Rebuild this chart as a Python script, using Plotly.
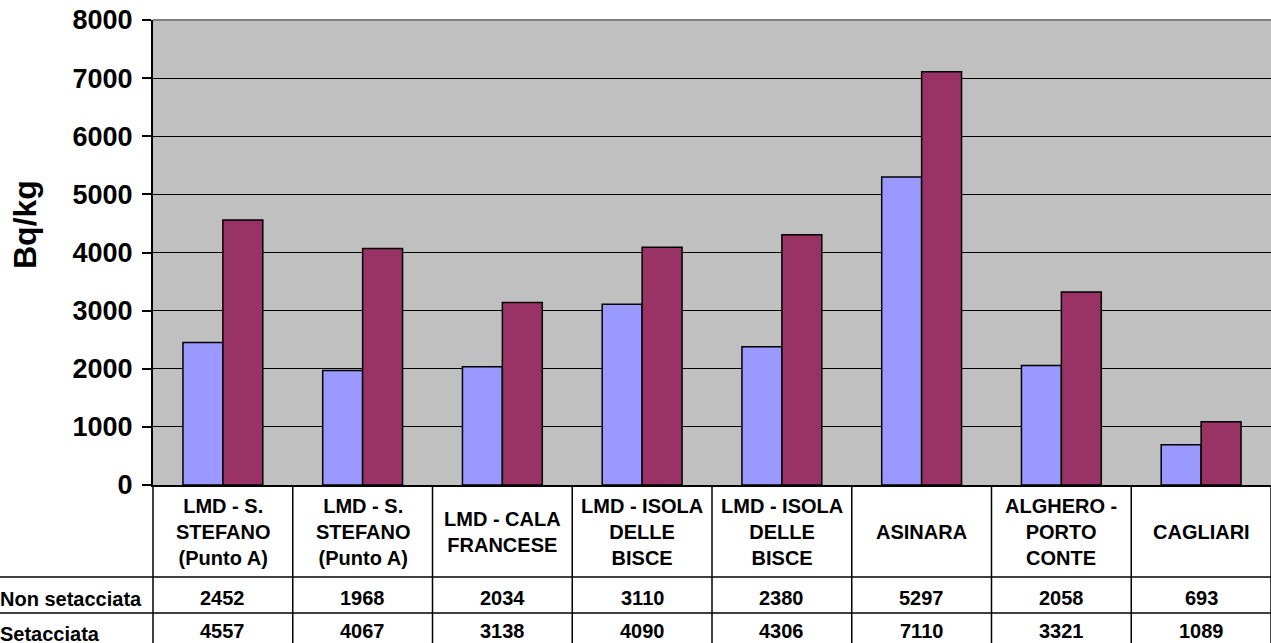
import plotly.graph_objects as go

categories = [
    "LMD - S.<br>STEFANO<br>(Punto A)",
    "LMD - S.<br>STEFANO<br>(Punto A)",
    "LMD - CALA<br>FRANCESE",
    "LMD - ISOLA<br>DELLE<br>BISCE",
    "LMD - ISOLA<br>DELLE<br>BISCE",
    "ASINARA",
    "ALGHERO -<br>PORTO<br>CONTE",
    "CAGLIARI",
]
series_names = ["Non setacciata", "Setacciata"]
non_setacciata = [2452, 1968, 2034, 3110, 2380, 5297, 2058, 693]
setacciata = [4557, 4067, 3138, 4090, 4306, 7110, 3321, 1089]
y_ticks = [0, 1000, 2000, 3000, 4000, 5000, 6000, 7000, 8000]
y_title = "Bq/kg"

W, H = 1271, 643
L, R, T, B = 153, 0, 20, 158
PW = W - L - R
PH = H - T - B
FONT = "Arial, Liberation Sans, sans-serif"
n = len(categories)
xs = list(range(n))


def px_x(px):
    return (px - L) / PW


def px_y(py):
    return (H - B - py) / PH


fig = go.Figure()
fig.add_trace(go.Bar(x=xs, y=non_setacciata, name=series_names[0],
                     marker=dict(color="#9999FF", line=dict(color="black", width=1.5))))
fig.add_trace(go.Bar(x=xs, y=setacciata, name=series_names[1],
                     marker=dict(color="#993366", line=dict(color="black", width=1.5))))

shapes = []
annotations = []
# top border of plot area
shapes.append(dict(type="line", xref="paper", yref="paper", x0=0, x1=1, y0=1, y1=1,
                   line=dict(color="#808080", width=2)))
# table vertical lines
for i in range(n + 1):
    shapes.append(dict(type="line", xref="paper", yref="paper", x0=i / n, x1=i / n,
                       y0=0, y1=px_y(H + 10), line=dict(color="black", width=1.5)))
# table horizontal lines
for py in [577, 613]:
    shapes.append(dict(type="line", xref="paper", yref="paper", x0=px_x(-5), x1=1,
                       y0=px_y(py), y1=px_y(py), line=dict(color="black", width=1.5)))

for i, c in enumerate(categories):
    annotations.append(dict(x=(i + 0.5) / n, y=px_y(532), xref="paper", yref="paper",
                            text=c, showarrow=False, xanchor="center", yanchor="middle",
                            font=dict(family=FONT, size=20, color="black", weight="bold")))
    for vals, py in [(non_setacciata, 598), (setacciata, 631)]:
        annotations.append(dict(x=(i + 0.5) / n, y=px_y(py), xref="paper", yref="paper",
                                text=str(vals[i]), showarrow=False, xanchor="center",
                                yanchor="middle",
                                font=dict(family=FONT, size=20, color="black", weight="bold")))

for name, py in zip(series_names, [599, 634]):
    annotations.append(dict(x=px_x(-2), y=px_y(py), xref="paper", yref="paper",
                            text=name, showarrow=False, xanchor="left", yanchor="middle",
                            font=dict(family=FONT, size=20, color="black", weight="bold")))

annotations.append(dict(x=px_x(25), y=px_y(225), xref="paper", yref="paper",
                        text=y_title, textangle=-90, showarrow=False,
                        xanchor="center", yanchor="middle",
                        font=dict(family=FONT, size=32, color="black", weight="bold")))

fig.update_layout(
    width=W, height=H,
    margin=dict(l=L, r=R, t=T, b=B, pad=0),
    paper_bgcolor="white",
    plot_bgcolor="#C0C0C0",
    barmode="group",
    bargap=1.5 / 3.5,
    bargroupgap=0,
    showlegend=False,
    shapes=shapes,
    annotations=annotations,
    xaxis=dict(range=[-0.5, n - 0.5], showticklabels=False, ticks="", showgrid=False,
               showline=True, linecolor="black", linewidth=2, zeroline=False,
               fixedrange=True),
    yaxis=dict(range=[0, 8000], tickvals=y_ticks, ticks="outside", ticklen=9,
               tickwidth=1.5, tickcolor="black", showgrid=True, gridcolor="black",
               gridwidth=1, showline=True, linecolor="black", linewidth=2,
               zeroline=False, ticklabelstandoff=4,
               tickfont=dict(family=FONT, size=27, color="black", weight="bold"),
               fixedrange=True),
)

fig.write_html(
    "out.html",
    config={"displayModeBar": False},
    post_script="document.body.style.margin='0';document.body.style.overflow='hidden';",
)
